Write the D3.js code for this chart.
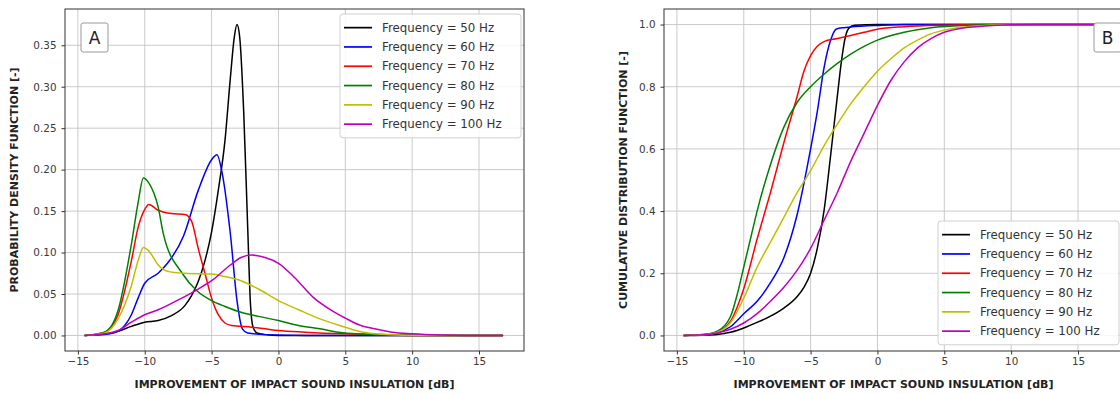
<!DOCTYPE html>
<html><head><meta charset="utf-8">
<script src="https://cdn.jsdelivr.net/npm/d3@7"></script>
<style>body{margin:0;background:#fff}svg{display:block;font-family:"DejaVu Sans",sans-serif}</style>
</head><body><svg id="c" width="1120" height="394"></svg>
<script>
// ---------- data ----------
const seriesLabels = ["Frequency = 50 Hz","Frequency = 60 Hz","Frequency = 70 Hz","Frequency = 80 Hz","Frequency = 90 Hz","Frequency = 100 Hz"];
const seriesColors = ["#000000","#0000ff","#ff0000","#008000","#bfbf00","#bf00bf"];
const xTicks = [-15,-10,-5,0,5,10,15];
const pdfTicks = [0,0.05,0.10,0.15,0.20,0.25,0.30,0.35];
const cdfTicks = [0,0.2,0.4,0.6,0.8,1.0];

const pdf50 = [[-14.5,0],[-13.5,0.001],[-12.5,0.003],[-12,0.005],[-11,0.011],[-10,0.016],[-9,0.018],[-8,0.024],[-7,0.036],[-6.5,0.048],[-6,0.065],[-5.5,0.09],[-5,0.125],[-4.5,0.175],[-4,0.235],[-3.6,0.31],[-3.3,0.36],[-3.1,0.375],[-2.9,0.36],[-2.6,0.27],[-2.3,0.13],[-2.1,0.04],[-1.9,0.01],[-1.6,0.003],[-1,0.001],[0,0],[16.8,0]];
const pdf60 = [[-14.5,0],[-13,0.001],[-12,0.005],[-11.5,0.012],[-11,0.025],[-10.5,0.045],[-10,0.063],[-9,0.075],[-8.3,0.087],[-7.1,0.12],[-6,0.175],[-5,0.212],[-4.6,0.218],[-4.2,0.195],[-3.6,0.123],[-3.1,0.042],[-2.7,0.008],[-2.3,0.003],[-1,0.001],[2,0],[16.8,0]];
const pdf70 = [[-14.5,0],[-13,0.004],[-12,0.025],[-11,0.09],[-10.5,0.13],[-10,0.152],[-9.7,0.158],[-9,0.151],[-8,0.147],[-7,0.146],[-6.5,0.138],[-6,0.105],[-5.5,0.075],[-5,0.045],[-4.5,0.025],[-4,0.015],[-3.5,0.012],[-2,0.01],[-1,0.008],[0,0.006],[2,0.004],[5,0.002],[8,0.001],[10,0],[16.8,0]];
const pdf80 = [[-14.5,0],[-13,0.004],[-12,0.03],[-11,0.11],[-10.5,0.16],[-10.1,0.19],[-9.7,0.184],[-9,0.155],[-8.6,0.122],[-7.2,0.075],[-6.1,0.054],[-5,0.042],[-4,0.035],[-2.8,0.028],[-1.5,0.023],[0,0.018],[1.5,0.012],[3.1,0.008],[4.5,0.004],[5.8,0.002],[8,0.001],[10,0],[16.8,0]];
const pdf90 = [[-14.5,0],[-13,0.003],[-12,0.02],[-11,0.06],[-10.5,0.09],[-10.1,0.106],[-9.7,0.102],[-9,0.085],[-8.2,0.077],[-7,0.075],[-5,0.074],[-4,0.071],[-2.8,0.066],[-1.5,0.056],[0,0.042],[1.5,0.031],[3.1,0.02],[5,0.01],[6,0.005],[7.2,0.002],[9,0.0005],[10,0],[16.8,0]];
const pdf100 = [[-14.5,0],[-13,0.002],[-12,0.006],[-11,0.016],[-10,0.025],[-9,0.031],[-7.6,0.042],[-6,0.056],[-5,0.066],[-3.6,0.085],[-2.8,0.094],[-2,0.097],[-1,0.094],[0,0.087],[1.2,0.07],[2.6,0.046],[4,0.03],[5,0.021],[6,0.013],[7.2,0.008],[8.5,0.004],[10,0.002],[12,0.0005],[14,0],[16.8,0]];

const cdf50 = [[-14.5,0],[-13,0.001],[-12,0.003],[-11,0.01],[-10,0.024],[-9,0.042],[-8,0.062],[-7,0.088],[-6,0.125],[-5.5,0.155],[-5,0.2],[-4.5,0.28],[-4,0.4],[-3.5,0.58],[-3,0.77],[-2.7,0.88],[-2.4,0.96],[-2.1,0.99],[-1.7,0.998],[0,1],[16.8,1]];
const cdf60 = [[-14.5,0],[-13,0.002],[-12,0.008],[-11,0.028],[-10,0.07],[-9,0.11],[-8,0.17],[-7,0.25],[-6,0.39],[-5,0.6],[-4.5,0.72],[-4,0.86],[-3.5,0.95],[-3.1,0.985],[-2.5,0.99],[-2,0.992],[0,0.997],[2,1],[16.8,1]];
const cdf70 = [[-14.5,0],[-13,0.003],[-12,0.012],[-11,0.045],[-10.5,0.09],[-10,0.15],[-9,0.31],[-8,0.46],[-7,0.62],[-6,0.77],[-5.5,0.85],[-5,0.9],[-4.5,0.93],[-4,0.945],[-3,0.955],[-2,0.965],[-1,0.975],[0,0.985],[2,0.993],[5,0.998],[8,1],[16.8,1]];
const cdf80 = [[-14.5,0],[-13,0.003],[-12,0.013],[-11,0.06],[-10.5,0.13],[-10,0.22],[-9.5,0.31],[-9,0.4],[-8,0.55],[-7,0.67],[-6,0.75],[-5,0.8],[-4,0.84],[-3,0.875],[-2,0.905],[-1,0.93],[0,0.95],[2,0.975],[4,0.99],[6,0.996],[8,0.999],[10,1],[16.8,1]];
const cdf90 = [[-14.5,0],[-13,0.002],[-12,0.01],[-11,0.04],[-10,0.12],[-9,0.22],[-8,0.3],[-7,0.38],[-6,0.46],[-5,0.53],[-4,0.61],[-3,0.68],[-2,0.745],[-1,0.8],[0,0.85],[1,0.89],[2,0.925],[3,0.95],[4,0.97],[5,0.982],[6,0.99],[8,0.997],[10,1],[16.8,1]];
const cdf100 = [[-14.5,0],[-13,0.002],[-12,0.008],[-11,0.02],[-10,0.04],[-9,0.07],[-8,0.11],[-7,0.155],[-6,0.21],[-5,0.28],[-4,0.37],[-3,0.46],[-2,0.56],[-1,0.65],[0,0.74],[1,0.82],[2,0.88],[3,0.925],[4,0.955],[5,0.975],[6,0.986],[8,0.995],[10,0.999],[12,1],[16.8,1]];

const pdfSeries = [pdf50,pdf60,pdf70,pdf80,pdf90,pdf100];
const cdfSeries = [cdf50,cdf60,cdf70,cdf80,cdf90,cdf100];

// ---------- drawing ----------
const svg = d3.select("#c");
const xDomain = [-15.965, 18.365];

function panel(opts){
  const {left,right,top,bottom,yDomain,yTicks,yFmt,series,ylabel,ylabelOff,letter,letterX,legendPos} = opts;
  const g = svg.append("g");
  const x = d3.scaleLinear().domain(xDomain).range([left,right]);
  const y = d3.scaleLinear().domain(yDomain).range([bottom,top]);
  const clipId = "clip"+letter;
  svg.append("clipPath").attr("id",clipId).append("rect")
    .attr("x",left).attr("y",top).attr("width",right-left).attr("height",bottom-top);
  // grid
  g.append("g").selectAll("line").data(xTicks).join("line")
    .attr("x1",d=>x(d)).attr("x2",d=>x(d)).attr("y1",top).attr("y2",bottom)
    .attr("stroke","#c4c4c4").attr("stroke-width",0.9);
  g.append("g").selectAll("line").data(yTicks).join("line")
    .attr("y1",d=>y(d)).attr("y2",d=>y(d)).attr("x1",left).attr("x2",right)
    .attr("stroke","#c4c4c4").attr("stroke-width",0.9);
  // lines
  const line = d3.line().x(d=>x(d[0])).y(d=>y(d[1])).curve(d3.curveMonotoneX);
  g.append("g").attr("clip-path",`url(#${clipId})`).selectAll("path").data(series).join("path")
    .attr("d",line).attr("fill","none").attr("stroke",(d,i)=>seriesColors[i]).attr("stroke-width",1.5)
    .attr("stroke-linejoin","round");
  // axes
  const ax = g.append("g").attr("transform",`translate(0,${bottom})`)
    .call(d3.axisBottom(x).tickValues(xTicks).tickFormat(d=>d<0?"\u2212"+Math.abs(d):d).tickSize(3.5).tickPadding(3.5));
  const ay = g.append("g").attr("transform",`translate(${left},0)`)
    .call(d3.axisLeft(y).tickValues(yTicks).tickFormat(yFmt).tickSize(3.5).tickPadding(5));
  [ax,ay].forEach(a=>{
    a.select(".domain").remove();
    a.selectAll("text").attr("font-size",10.4).attr("fill","#3a3a3a").attr("font-family","DejaVu Sans");
    a.selectAll("line").attr("stroke","#333");
  });
  g.append("rect").attr("x",left).attr("y",top).attr("width",right-left).attr("height",bottom-top)
    .attr("fill","none").attr("stroke","#333").attr("stroke-width",1);
  // labels
  g.append("text").attr("x",(left+right)/2).attr("y",388).attr("text-anchor","middle")
    .attr("font-size",11).attr("font-weight","bold").attr("fill","#222")
    .text("IMPROVEMENT OF IMPACT SOUND INSULATION [dB]");
  g.append("text").attr("transform",`translate(${left-ylabelOff},${(top+bottom)/2}) rotate(-90)`)
    .attr("text-anchor","middle").attr("font-size",11).attr("font-weight","bold").attr("fill","#222")
    .text(ylabel);
  // letter box
  const lb = g.append("g");
  lb.append("rect").attr("x",letterX).attr("y",23).attr("width",27).attr("height",29).attr("rx",2)
    .attr("fill","#fff").attr("stroke","#999").attr("stroke-width",1);
  lb.append("text").attr("x",letterX+13.5).attr("y",44).attr("text-anchor","middle")
    .attr("font-size",17).attr("fill","#222").text(letter);
  // legend
  const lg = g.append("g").attr("transform",`translate(${legendPos[0]},${legendPos[1]})`);
  const rowH = 19.3;
  lg.append("rect").attr("x",0).attr("y",0).attr("width",181).attr("height",rowH*6+8).attr("rx",3)
    .attr("fill","#fff").attr("fill-opacity",0.85).attr("stroke","#d0d0d0");
  const rows = lg.selectAll("g.row").data(seriesLabels).join("g").attr("class","row")
    .attr("transform",(d,i)=>`translate(0,${4+rowH*(i+0.5)})`);
  rows.append("line").attr("x1",4).attr("x2",32).attr("stroke",(d,i)=>seriesColors[i]).attr("stroke-width",1.7);
  rows.append("text").attr("x",42).attr("y",4).attr("font-size",11.8).attr("fill","#333").text(d=>d);
}

panel({left:65,right:524,top:9,bottom:351,yDomain:[-0.01875,0.39375],yTicks:pdfTicks,
  yFmt:d3.format(".2f"),series:pdfSeries,ylabel:"PROBABILITY DENSITY FUNCTION [-]",ylabelOff:47,
  letter:"A",letterX:81,legendPos:[340,14]});
panel({left:664,right:1123,top:9,bottom:351,yDomain:[-0.05,1.05],yTicks:cdfTicks,
  yFmt:d3.format(".1f"),series:cdfSeries,ylabel:"CUMULATIVE DISTRIBUTION FUNCTION [-]",ylabelOff:37,
  letter:"B",letterX:1094,legendPos:[938,221]});
</script></body></html>
